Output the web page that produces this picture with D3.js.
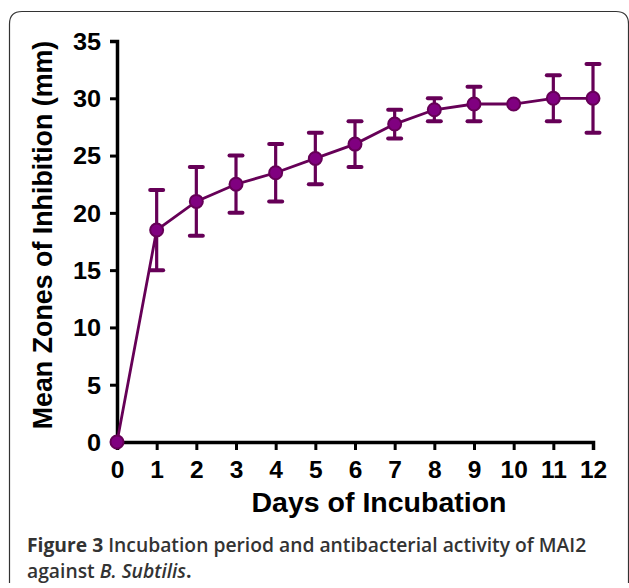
<!DOCTYPE html>
<html><head><meta charset="utf-8">
<script src="https://cdn.jsdelivr.net/npm/d3@7"></script>
<style>
html,body{margin:0;padding:0;background:#fff;}
svg{display:block;}
</style></head>
<body>
<svg id="chart" width="629" height="588"></svg>
<script>
const days = [0,1,2,3,4,5,6,7,8,9,10,11,12];
const meanZone = [0,18.5,21,22.5,23.5,24.75,26,27.75,29,29.5,29.5,30,30];
const errLow  = [0,15,18,20,21,22.5,24,26.5,28,28,29.5,28,27];
const errHigh = [0,22,24,25,26,27,28,29,30,31,29.5,32,33];
const yTicks = [0,5,10,15,20,25,30,35];
const xTicks = [0,1,2,3,4,5,6,7,8,9,10,11,12];

const svg = d3.select("#chart");
// frame
svg.append("path")
  .attr("d","M9.5,583 L9.5,24 Q9.5,11.5 22,11.5 L616,11.5 Q628.5,11.5 628.5,24 L628.5,583")
  .attr("fill","none").attr("stroke","#333").attr("stroke-width",1.2);

const x = d3.scaleLinear().domain([0,12]).range([117,593]);
const y = d3.scaleLinear().domain([0,35]).range([442,41]);

const axisFont = "'Liberation Sans', Arial, sans-serif";

// y axis
const yAxis = svg.append("g").attr("transform","translate(117,0)")
  .call(d3.axisLeft(y).tickValues(yTicks).tickSize(7).tickPadding(9));
// x axis
const xAxis = svg.append("g").attr("transform","translate(0,442)")
  .call(d3.axisBottom(x).tickValues(xTicks).tickSize(8).tickPadding(11));
[yAxis,xAxis].forEach(g=>{
  g.select(".domain").attr("stroke","#000").attr("stroke-width",3.5);
  g.selectAll(".tick line").attr("stroke","#000").attr("stroke-width",3);
  g.selectAll(".tick text").attr("fill","#000").style("font-family",axisFont)
   .style("font-weight","bold");
});
yAxis.selectAll(".tick text").style("font-size","23px").attr("dy","0.36em")
  .attr("transform","translate(-16,0) scale(1.1,1) translate(16,0)");
xAxis.selectAll(".tick text").style("font-size","24.5px").attr("dy","0.71em");

// titles
svg.append("text").attr("x",379).attr("y",512).attr("text-anchor","middle")
  .style("font-family",axisFont).style("font-weight","bold").style("font-size","28.5px")
  .attr("fill","#000").text("Days of Incubation");
svg.append("text").attr("transform","translate(52,235) rotate(-90)").attr("text-anchor","middle")
  .style("font-family",axisFont).style("font-weight","bold").style("font-size","26.8px")
  .attr("fill","#000").text("Mean Zones of Inhibition (mm)");

const lineColor = "#660057";
const data = days.map((d,i)=>({d, m:meanZone[i], lo:errLow[i], hi:errHigh[i]}));

// line
svg.append("path").datum(data)
  .attr("d", d3.line().x(p=>x(p.d)).y(p=>y(p.m)))
  .attr("fill","none").attr("stroke",lineColor).attr("stroke-width",2.8);

// error bars
const eb = svg.append("g").attr("stroke",lineColor).attr("stroke-width",3.2);
data.filter(p=>p.hi>p.lo).forEach(p=>{
  eb.append("line").attr("x1",x(p.d)).attr("x2",x(p.d)).attr("y1",y(p.lo)).attr("y2",y(p.hi));
  [p.lo,p.hi].forEach(v=>{
    eb.append("line").attr("x1",x(p.d)-6.5).attr("x2",x(p.d)+6.5).attr("y1",y(v)).attr("y2",y(v))
      .attr("stroke-width",4).attr("stroke-linecap","round");
  });
});

// markers
svg.append("g").selectAll("circle").data(data).join("circle")
  .attr("cx",p=>x(p.d)).attr("cy",p=>y(p.m)).attr("r",6.5)
  .attr("fill","#800080").attr("stroke",lineColor).attr("stroke-width",2);

// caption
const capFont = "'Open Sans', 'Noto Sans', sans-serif";
const cap1 = svg.append("text").attr("x",27).attr("y",552)
  .style("font-family",capFont).style("font-size","19.3px").attr("fill","#333");
cap1.append("tspan").style("font-weight","bold").text("Figure 3");
cap1.append("tspan").style("font-weight","600").text(" Incubation period and antibacterial activity of MAI2");
const cap2 = svg.append("text").attr("x",27).attr("y",578)
  .style("font-family",capFont).style("font-size","19.3px").attr("fill","#333");
cap2.append("tspan").style("font-weight","600").text("against ");
cap2.append("tspan").style("font-weight","600").style("font-style","italic").text("B. Subtilis");
cap2.append("tspan").style("font-weight","bold").text(".");
</script>
</body></html>
